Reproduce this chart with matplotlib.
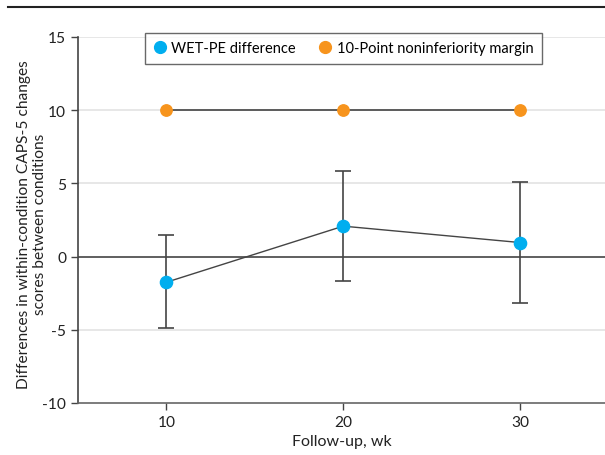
import matplotlib
matplotlib.use("Agg")
import matplotlib.pyplot as plt
from matplotlib.lines import Line2D

plt.rcParams['font.family'] = ['Lato', 'DejaVu Sans']

weeks = [10, 20, 30]
wet_pe_diff = [-1.75, 2.08, 0.96]
ci_low = [-4.88, -1.67, -3.18]
ci_high = [1.47, 5.84, 5.09]
margin = [10, 10, 10]
yticks = [-10, -5, 0, 5, 10, 15]
xticks = [10, 20, 30]

blue = '#00AEEF'
orange = '#F7941D'
dark = '#444444'

fig = plt.figure(figsize=(6.05, 4.56), dpi=100)
ax = fig.add_axes([78/605, 1 - 404/456, 1 - 78/605, (404 - 38)/456])

ax.set_xlim(5, 34.8)
ax.set_ylim(-10, 15)

for y in [15, 10, 5, -5]:
    ax.axhline(y, color='#e3e3e3', lw=1.2, zorder=0)
ax.axhline(0, color=dark, lw=1.2, zorder=1)

ax.plot(weeks, margin, color=dark, lw=1.2, zorder=2)
ax.plot(weeks, margin, 'o', color=orange, ms=8.2, zorder=4)

yerr = [[v - l for v, l in zip(wet_pe_diff, ci_low)],
        [h - v for v, h in zip(wet_pe_diff, ci_high)]]
ax.errorbar(weeks, wet_pe_diff, yerr=yerr, fmt='none', ecolor=dark,
            elinewidth=1.2, capsize=6, capthick=1.2, zorder=2)
ax.plot(weeks, wet_pe_diff, color=dark, lw=1.0, zorder=2)
ax.plot(weeks, wet_pe_diff, 'o', color=blue, ms=8.8, zorder=4)

ax.set_xticks(xticks)
ax.set_yticks(yticks)
ax.set_yticklabels(['-10', '-5', '0', '5', '10', '15'])
ax.tick_params(axis='both', labelsize=11.2, color=dark, labelcolor='#222222',
               length=5, width=1)
for s in ['top', 'right']:
    ax.spines[s].set_visible(False)
ax.spines['left'].set_color(dark)
ax.spines['bottom'].set_color('#666666')
ax.spines['left'].set_linewidth(1.2)
ax.spines['bottom'].set_linewidth(1.2)

ax.set_xlabel('Follow-up, wk', fontsize=11.5, color='#222222', labelpad=4)
ax.set_ylabel('Differences in within-condition CAPS-5 changes\nscores between conditions',
              fontsize=11.2, color='#222222', linespacing=1.2)
ax.yaxis.set_label_coords(-0.058, 0.49)

handles = [Line2D([], [], marker='o', ls='none', color=blue, ms=8.5),
           Line2D([], [], marker='o', ls='none', color=orange, ms=8.5)]
leg = ax.legend(handles, ['WET-PE difference', '10-Point noninferiority margin'],
                loc='upper center', bbox_to_anchor=(0.504, 1.032), ncol=2,
                fontsize=10.5, frameon=True, fancybox=False, edgecolor=dark,
                handlelength=0.8, handletextpad=0.4, columnspacing=1.6,
                borderpad=0.6)
leg.get_frame().set_linewidth(1.0)
leg.set_zorder(5)

fig.add_artist(Line2D([8/605, 1], [1 - 8/456, 1 - 8/456], color='#222222', lw=1.5,
                      transform=fig.transFigure))

fig.savefig('out.png', dpi=100)
